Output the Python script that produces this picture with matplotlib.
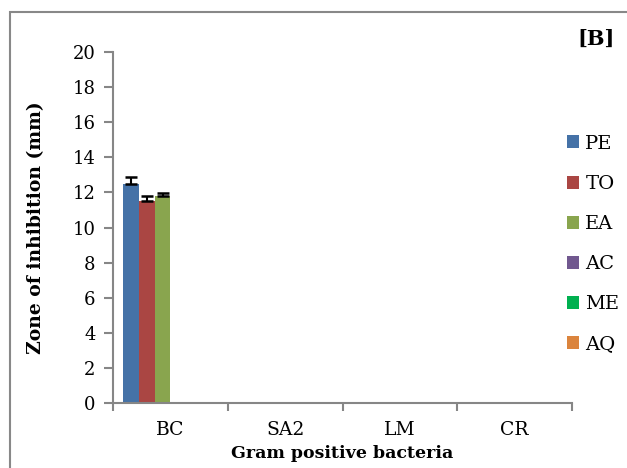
import matplotlib
matplotlib.use("Agg")
import matplotlib.pyplot as plt
import numpy as np
from matplotlib.patches import Rectangle, Patch

categories = ["BC", "SA2", "LM", "CR"]
series_names = ["PE", "TO", "EA", "AC", "ME", "AQ"]
PE = [12.5, 0, 0, 0]
TO = [11.5, 0, 0, 0]
EA = [11.8, 0, 0, 0]
AC = [0, 0, 0, 0]
ME = [0, 0, 0, 0]
AQ = [0, 0, 0, 0]
PE_err = [0.35, 0, 0, 0]
TO_err = [0.3, 0, 0, 0]
EA_err = [0.18, 0, 0, 0]
AC_err = [0, 0, 0, 0]
ME_err = [0, 0, 0, 0]
AQ_err = [0, 0, 0, 0]
yticks = [0, 2, 4, 6, 8, 10, 12, 14, 16, 18, 20]

values = [PE, TO, EA, AC, ME, AQ]
errors = [PE_err, TO_err, EA_err, AC_err, ME_err, AQ_err]
colors = ["#4572A7", "#AA4643", "#89A54E", "#71588F", "#00B050", "#DB843D"]

plt.rcParams['font.family'] = ['DejaVu Serif']

fig = plt.figure(figsize=(6.27, 4.68), dpi=100)
ax = fig.add_axes([113/627, 1-403/468, (572-113)/627, (403-52)/468])

x = np.arange(len(categories))
w = 0.137
for j, (vals, errs, c, name) in enumerate(zip(values, errors, colors, series_names)):
    pos = x + (j - 2.5) * w
    ax.bar(pos, vals, width=w, color=c, label=name, zorder=2)
    v = np.array(vals); e = np.array(errs)
    mask = e > 0
    if mask.any():
        ax.errorbar(pos[mask], v[mask], yerr=[np.zeros(mask.sum()), e[mask]],
                    fmt='none', ecolor='black', elinewidth=1.5, capsize=4.5,
                    capthick=1.8, zorder=3)

ax.set_xlim(-0.5, len(categories) - 0.5)
ax.set_ylim(0, 20)
ax.set_yticks(yticks)
ax.set_yticklabels([str(t) for t in yticks], fontsize=13)
ax.set_xticks(x)
ax.set_xticklabels(categories, fontsize=13.5)
ax.set_xticks(np.arange(-0.5, len(categories)), minor=True)
ax.tick_params(axis='x', which='major', length=0, pad=13)
ax.tick_params(axis='x', which='minor', length=6, width=1.5, color='#868686', direction='out')
ax.tick_params(axis='y', length=6.5, width=1.5, color='#868686', direction='out', pad=6)
for s in ['top', 'right']:
    ax.spines[s].set_visible(False)
for s in ['left', 'bottom']:
    ax.spines[s].set_color('#868686')
    ax.spines[s].set_linewidth(1.5)

ax.set_ylabel("Zone of inhibition (mm)", fontsize=13.5, fontweight='bold', labelpad=20)
ax.set_xlabel("Gram positive bacteria", fontsize=12.5, fontweight='bold', labelpad=4)

handles = [Patch(facecolor=c, label=n) for c, n in zip(colors, series_names)]
fig.legend(handles=handles, loc='upper left', bbox_to_anchor=(559/627, 1-127/468),
           frameon=False, fontsize=14, handlelength=0.65, handleheight=0.65,
           handletextpad=0.3, labelspacing=1.14, borderaxespad=0)

fig.text(596/627, 1-39/468, "[B]", fontsize=15, fontweight='bold', ha='center', va='center')

fig.patches.append(Rectangle((10/627, -0.1), 1.2, 1 - 12/468 + 0.1,
                             transform=fig.transFigure, fill=False,
                             edgecolor='#888888', linewidth=1.5))

fig.savefig("out.png", dpi=100)
